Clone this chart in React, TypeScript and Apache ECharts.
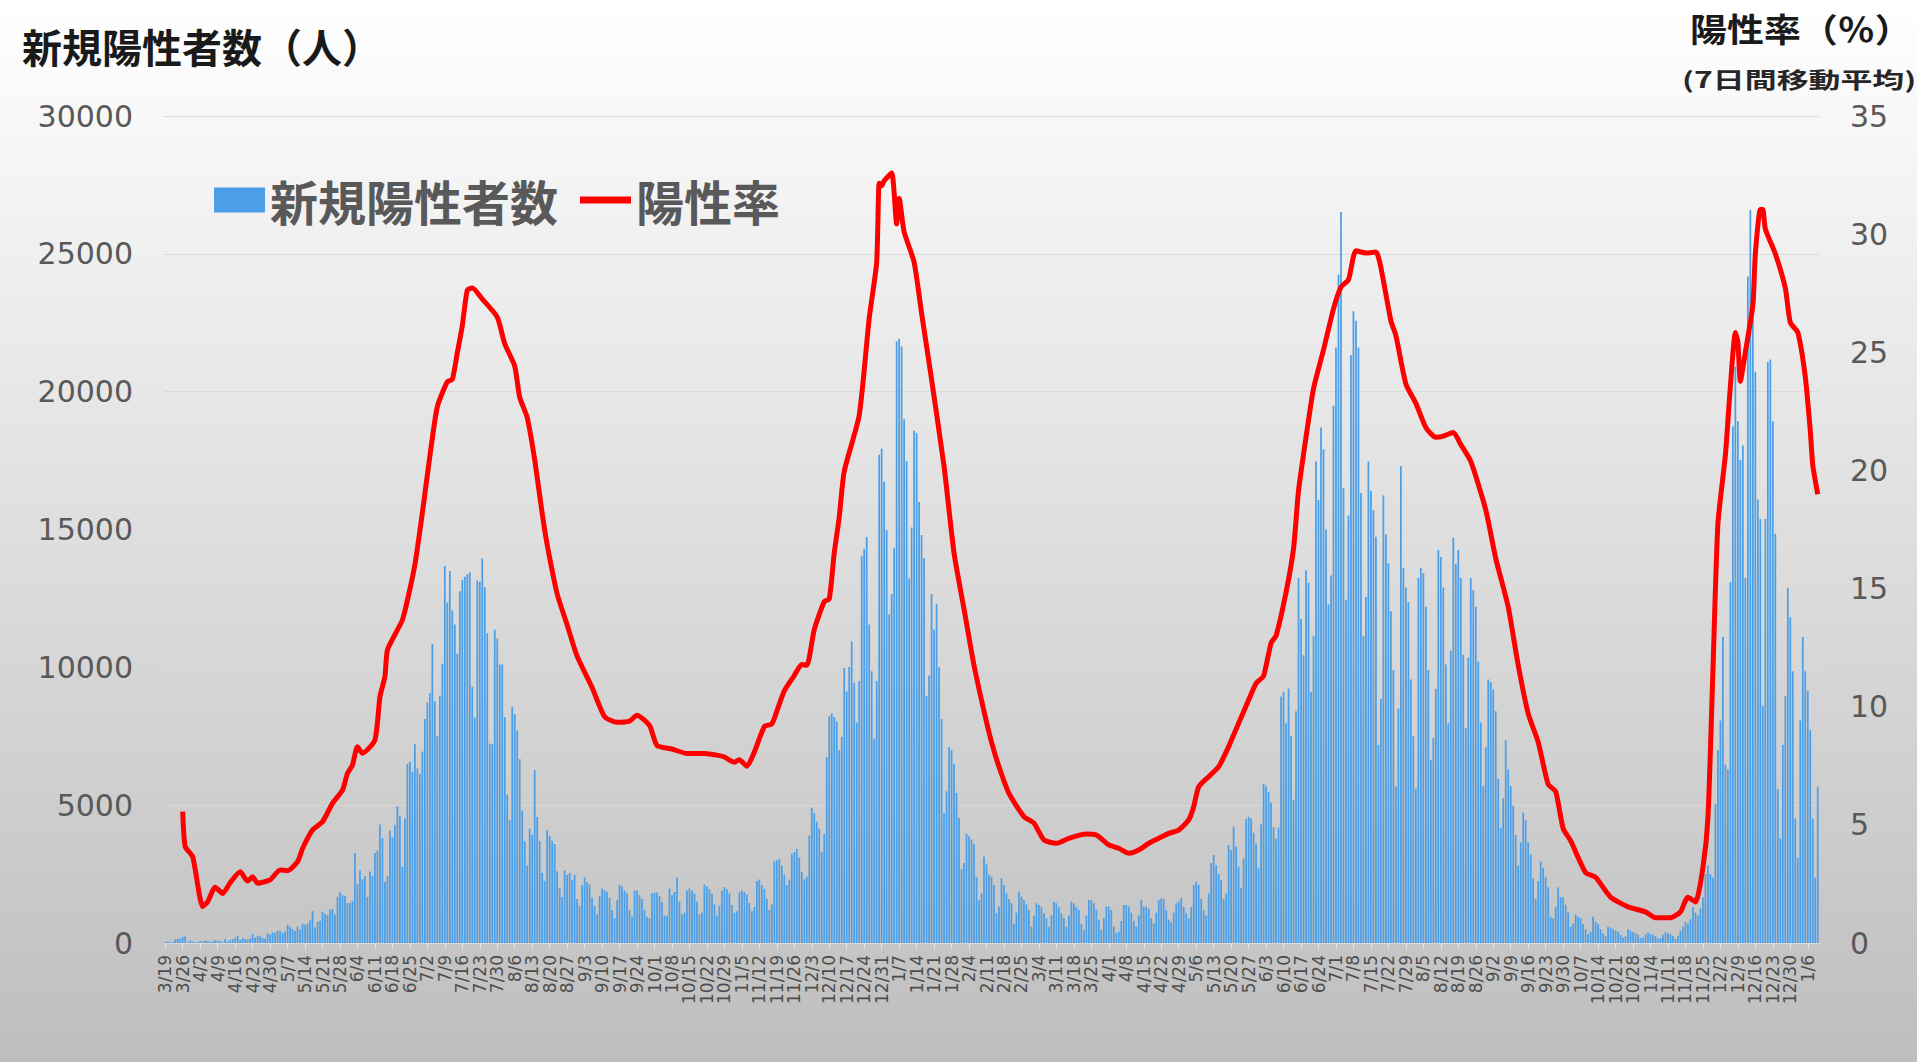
import { useEffect, useRef } from "react";
import * as echarts from "echarts";

// Weekly tick labels (every 7th day, starting 3/19)
const weekLabels = [
  "3/19", "3/26", "4/2", "4/9", "4/16", "4/23", "4/30", "5/7", "5/14", "5/21", "5/28",
  "6/4", "6/11", "6/18", "6/25", "7/2", "7/9", "7/16", "7/23", "7/30", "8/6", "8/13",
  "8/20", "8/27", "9/3", "9/10", "9/17", "9/24", "10/1", "10/8", "10/15", "10/22", "10/29",
  "11/5", "11/12", "11/19", "11/26", "12/3", "12/10", "12/17", "12/24", "12/31",
  "1/7", "1/14", "1/21", "1/28", "2/4", "2/11", "2/18", "2/25", "3/4", "3/11", "3/18",
  "3/25", "4/1", "4/8", "4/15", "4/22", "4/29", "5/6", "5/13", "5/20", "5/27", "6/3",
  "6/10", "6/17", "6/24", "7/1", "7/8", "7/15", "7/22", "7/29", "8/5", "8/12", "8/19",
  "8/26", "9/2", "9/9", "9/16", "9/23", "9/30", "10/7", "10/14", "10/21", "10/28", "11/4",
  "11/11", "11/18", "11/25", "12/2", "12/9", "12/16", "12/23", "12/30", "1/6",
];

// Daily new positive cases (one row per week, Thu..Wed)
const newCases = [
  34, 52, 38, 34, 128, 152, 155,
  218, 243, 17, 93, 46, 27, 27,
  82, 43, 80, 70, 31, 63, 96,
  89, 69, 25, 145, 56, 99, 143,
  178, 251, 104, 174, 142, 124, 165,
  318, 188, 267, 247, 178, 164, 354,
  297, 385, 374, 447, 437, 352, 424,
  663, 595, 511, 434, 595, 469, 698,
  665, 712, 817, 1160, 567, 767, 803,
  1134, 1052, 1009, 1218, 1240, 1032, 1673,
  1837, 1727, 1716, 1446, 1455, 1526, 3267,
  2147, 2642, 2312, 2430, 1674, 2594, 2430,
  3267, 3359, 4302, 3809, 2224, 2431, 4078,
  3826, 4288, 4966, 4621, 2760, 4518, 6500,
  6579, 6215, 7210, 6334, 6130, 6945, 8124,
  8728, 9063, 10853, 8773, 7515, 8971, 10134,
  13674, 12348, 13497, 12058, 11554, 10496, 12757,
  13172, 13285, 13373, 13449, 9300, 8170, 13150,
  13104, 13944, 12904, 11233, 7232, 7211, 11362,
  11046, 10107, 10107, 8195, 5377, 4456, 8559,
  8307, 7712, 6670, 4804, 3692, 2810, 4150,
  3916, 6275, 4567, 3692, 2541, 2258, 4100,
  3880, 3707, 3593, 2600, 1986, 1670, 2630,
  2470, 2540, 2290, 2470, 1600, 1340, 2100,
  2380, 2200, 2120, 1640, 1340, 1040, 1700,
  1980, 1900, 1850, 1640, 1200, 900, 1550,
  2120, 2050, 1900, 1800, 1200, 950, 1900,
  1900, 1740, 1600, 1200, 950, 900, 1800,
  1830, 1830, 1700, 1490, 1000, 975, 1980,
  1740, 1850, 2380, 1500, 1040, 1100, 1900,
  1980, 1900, 1800, 1500, 1040, 1100, 2120,
  2050, 1950, 1800, 1400, 1000, 1350, 1900,
  2030, 1950, 1800, 1380, 1100, 1150, 1840,
  1900, 1850, 1750, 1450, 1150, 1300, 2250,
  2300, 2100, 1950, 1600, 1200, 1400, 2950,
  3000, 3040, 2800, 2480, 2100, 2300, 3230,
  3300, 3410, 3100, 2580, 2300, 2400, 3900,
  4900, 4720, 4400, 4150, 3300, 3960, 6750,
  8230, 8330, 8200, 8040, 7000, 7480, 9980,
  9126, 10008, 10939, 9445, 7999, 9501, 14046,
  14305, 14730, 11552, 9854, 7420, 9502, 17710,
  17930, 16730, 14980, 11920, 12660, 14330, 21820,
  21910, 21640, 19000, 17480, 13220, 15070, 18580,
  18500, 16000, 14800, 13960, 8960, 9700, 12660,
  11370, 12300, 10000, 8120, 4720, 5500, 7110,
  7000, 6500, 5440, 4530, 2680, 2900, 3960,
  3870, 3750, 3590, 2390, 1560, 1800, 3130,
  2850, 2480, 2400, 2100, 1080, 1320, 2350,
  2100, 1800, 1600, 1440, 710, 1100, 1860,
  1680, 1560, 1400, 1200, 590, 1000, 1440,
  1380, 1300, 1080, 900, 590, 1000, 1500,
  1440, 1300, 1080, 900, 590, 1000, 1500,
  1440, 1300, 1200, 700, 470, 1000, 1560,
  1560, 1440, 1200, 840, 470, 900, 1320,
  1320, 1200, 600, 350, 410, 800, 1380,
  1380, 1320, 1100, 800, 590, 1000, 1560,
  1320, 1320, 1250, 900, 710, 1100, 1560,
  1620, 1600, 1200, 840, 750, 1100, 1440,
  1500, 1620, 1300, 1080, 900, 1300, 2100,
  2225, 2100, 1600, 1200, 1000, 1800, 2900,
  3190, 2830, 2500, 2280, 1600, 1800, 3550,
  3370, 4220, 3500, 2770, 2000, 3070, 4500,
  4580, 4520, 4000, 3610, 2710, 4300, 5770,
  5690, 5470, 5100, 4200, 3780, 4180, 8940,
  9110, 7970, 9230, 7500, 5200, 8410, 13240,
  11750, 10440, 13510, 13070, 9110, 11150, 17470,
  16070, 18700, 17910, 15000, 12280, 13330, 19490,
  21600, 24240, 26520, 16500, 12450, 15510, 21330,
  22920, 22570, 21600, 16320, 11140, 12550, 17470,
  16410, 15700, 14740, 7180, 8850, 16230, 14830,
  13780, 12030, 9900, 5690, 8500, 17290, 13600,
  12900, 12370, 9560, 7500, 5600, 13240, 13600,
  13420, 12200, 9900, 6640, 7430, 9220, 14260,
  14000, 12900, 10100, 7970, 10600, 14700, 13740,
  14260, 13240, 10460, 7790, 10350, 13240, 12800,
  12200, 10200, 8000, 5690, 7100, 9560, 9470,
  9200, 8410, 5950, 4180, 5250, 7350, 6290,
  5690, 4980, 3920, 2800, 3650, 4730, 4450,
  3650, 3220, 2340, 1600, 2250, 2950, 2730,
  2400, 2020, 950, 900, 1300, 2020, 1660,
  1660, 1390, 1100, 590, 700, 1030, 950,
  900, 690, 500, 320, 400, 950, 780,
  700, 500, 350, 250, 590, 560, 500,
  450, 420, 300, 200, 240, 500, 450,
  400, 360, 300, 180, 200, 320, 380,
  330, 300, 250, 150, 180, 300, 400,
  350, 320, 250, 150, 250, 450, 590,
  770, 700, 860, 1300, 1100, 1000, 1250,
  1660, 2500, 2820, 2500, 2370, 5040, 7000,
  8070, 11110, 6470, 6290, 13090, 18750, 20900,
  18930, 17520, 18050, 13250, 24180, 26580, 22640,
  20720, 16090, 15380, 8610, 15380, 21080, 21170,
  18930, 14850, 5580, 3800, 7190, 8970, 12890,
  11820, 9860, 4510, 3090, 8070, 11110, 9860,
  9150, 7720, 4510, 2370, 5670,
];

// Positivity rate (7-day moving average, %) at day indices
const positivityDays = [
  7, 8, 11, 15, 17, 20, 23, 26, 30, 33, 35, 37, 42, 46, 49, 53, 55, 59, 63, 67,
  71, 73, 75, 77, 79, 84, 86, 88, 89, 93, 95, 97, 100, 103, 106, 109, 113, 115, 117, 119,
  121, 123, 127, 133, 136, 140, 142, 145, 148, 151, 153, 157, 161, 165, 171, 176, 181, 186, 189, 194,
  197, 203, 209, 216, 221, 224, 228, 230, 233, 236, 240, 243, 245, 248, 252, 255, 257, 260, 264, 266,
  268, 270, 272, 278, 282, 285, 286, 287, 288, 291, 293, 294, 296, 300, 303, 307, 312, 316, 320, 324,
  328, 331, 334, 338, 344, 348, 352, 357, 362, 369, 373, 378, 382, 386, 390, 394, 398, 402, 406, 410,
  412, 414, 418, 422, 426, 430, 434, 437, 440, 443, 445, 449, 452, 454, 457, 460, 464, 468, 471, 474,
  477, 481, 485, 487, 491, 493, 497, 501, 505, 509, 512, 516, 519, 523, 529, 533, 538, 542, 546, 550,
  554, 557, 560, 563, 569, 573, 579, 586, 593, 597, 603, 607, 610, 613, 616, 618, 620, 622, 625, 627,
  629, 630, 631, 633, 636, 637, 639, 640, 641, 645, 649, 651, 654, 657, 659, 660, 662,
];
const positivityRates = [
  5.56, 4.08, 3.65, 1.54, 1.75, 2.36, 2.1, 2.55, 3.02, 2.62, 2.8, 2.53, 2.67, 3.09, 3.06, 3.44, 4.0, 4.78, 5.13, 5.91,
  6.47, 7.18, 7.53, 8.31, 8.03, 8.59, 10.42, 11.27, 12.4, 13.25, 13.67, 14.5, 16.0, 18.2, 20.6, 22.7, 23.75, 23.85, 24.98, 26.12,
  27.63, 27.72, 27.25, 26.49, 25.36, 24.42, 23.09, 22.24, 20.45, 18.18, 16.86, 14.78, 13.46, 12.14, 10.81, 9.58, 9.34, 9.39, 9.64, 9.21,
  8.36, 8.21, 8.02, 8.02, 7.95, 7.87, 7.65, 7.76, 7.48, 8.08, 9.16, 9.27, 9.81, 10.67, 11.32, 11.79, 11.75, 13.26, 14.45, 14.56,
  16.5, 18.02, 19.96, 22.33, 26.43, 28.81, 32.15, 32.05, 32.26, 32.59, 30.43, 31.51, 30.1, 28.81, 26.65, 23.84, 20.17, 16.5, 14.13, 11.75,
  9.81, 8.5, 7.46, 6.33, 5.35, 5.07, 4.36, 4.22, 4.43, 4.61, 4.57, 4.15, 4.01, 3.8, 3.94, 4.22, 4.43, 4.64, 4.78, 5.21,
  5.77, 6.61, 7.04, 7.46, 8.31, 9.3, 10.28, 10.99, 11.3, 12.7, 13.0, 14.84, 16.69, 19.15, 21.41, 23.46, 25.1, 26.84, 27.76, 28.07,
  29.3, 29.2, 29.24, 28.58, 26.33, 25.71, 23.66, 22.84, 21.82, 21.4, 21.45, 21.61, 21.1, 20.38, 18.33, 16.28, 14.22, 11.76, 9.71, 8.5,
  6.72, 6.41, 4.85, 4.33, 2.98, 2.78, 1.94, 1.53, 1.32, 1.07, 1.07, 1.32, 1.94, 1.74, 3.19, 5.27, 11.5, 17.74, 20.65, 23.56,
  25.84, 25.43, 23.77, 25.01, 26.99, 29.17, 31.04, 31.04, 30.21, 29.17, 27.72, 26.26, 25.84, 23.97, 21.69, 20.23, 18.99,
];

const casesAxisTicks = { min: 0, max: 30000, interval: 5000 };
const rateAxisTicks = { min: 0, max: 35, interval: 5 };

const CJK = '"Noto Sans CJK JP", "Noto Sans CJK SC", sans-serif';
const NUM = '"DejaVu Sans", sans-serif';

// Thin horizontal bar icon (transparent padding keeps it centred and thin)
const LINE_ICON = "path://M0,0L0.01,0M0,9L52,9L52,16L0,16ZM0,25L0.01,25";

export default function App() {
  const ref = useRef<HTMLDivElement>(null);

  useEffect(() => {
    if (!ref.current) return;
    const chart = echarts.init(ref.current, null, { renderer: "svg" });
    const categories = newCases.map((_, i) => String(i));
    const lineData = positivityDays.map((d, i) => [d, positivityRates[i]]);
    const showTick = (index: number) => index % 7 === 0;

    chart.setOption({
      animation: false,
      backgroundColor: "transparent",
      grid: { left: 164, right: 98, top: 116, bottom: 119, containLabel: false },
      legend: {
        left: 214,
        top: 176,
        padding: 0,
        itemWidth: 51,
        itemHeight: 25,
        itemGap: 22,
        textStyle: { fontSize: 48, fontWeight: "bold", color: "#595959", fontFamily: CJK },
        data: [
          { name: "新規陽性者数", icon: "rect" },
          { name: "陽性率", icon: LINE_ICON },
        ],
      },
      graphic: [
        {
          type: "text",
          x: 22,
          y: 46,
          style: {
            text: "新規陽性者数（人）",
            fontSize: 40,
            fontWeight: "bold",
            fontFamily: CJK,
            fill: "#1a1a1a",
            align: "left",
            verticalAlign: "middle",
          },
        },
        {
          type: "text",
          x: 1690,
          y: 27,
          scaleX: 1.12,
          style: {
            text: "陽性率（％）",
            fontSize: 33,
            fontWeight: "bold",
            fontFamily: CJK,
            fill: "#1a1a1a",
            align: "left",
            verticalAlign: "middle",
          },
        },
        {
          type: "text",
          x: 1682,
          y: 78,
          scaleX: 1.45,
          style: {
            text: "(7日間移動平均)",
            fontSize: 22,
            fontWeight: "bold",
            fontFamily: CJK,
            fill: "#262626",
            align: "left",
            verticalAlign: "middle",
          },
        },
      ],
      xAxis: {
        type: "category",
        data: categories,
        axisLine: { show: true, lineStyle: { color: "#d9d9d9", width: 1 } },
        axisTick: { show: true, interval: showTick, alignWithLabel: true, length: 6, lineStyle: { color: "#e6e6e6" } },
        axisLabel: {
          interval: showTick,
          hideOverlap: false,
          rotate: 90,
          margin: 12,
          fontSize: 17,
          fontFamily: NUM,
          color: "#4d4d4d",
          formatter: (_v: string, index: number) =>
            index % 7 === 0 ? weekLabels[index / 7] ?? "" : "",
        },
        splitLine: { show: false },
      },
      yAxis: [
        {
          type: "value",
          ...casesAxisTicks,
          position: "left",
          axisLine: { show: false },
          axisTick: { show: false },
          axisLabel: {
            margin: 31,
            fontSize: 30,
            fontFamily: NUM,
            color: "#595959",
            formatter: (v: number) => String(v),
          },
          splitLine: { show: true, lineStyle: { color: "#d9d9d9", width: 1 } },
        },
        {
          type: "value",
          ...rateAxisTicks,
          position: "right",
          axisLine: { show: false },
          axisTick: { show: false },
          axisLabel: {
            margin: 31,
            fontSize: 30,
            fontFamily: NUM,
            color: "#595959",
            formatter: (v: number) => String(v),
          },
          splitLine: { show: false },
        },
      ],
      series: [
        {
          name: "新規陽性者数",
          type: "bar",
          data: newCases,
          yAxisIndex: 0,
          barCategoryGap: "30%",
          itemStyle: { color: "#4a9fe8" },
          z: 2,
        },
        {
          name: "陽性率",
          type: "line",
          data: lineData,
          yAxisIndex: 1,
          symbol: "none",
          smooth: 0.2,
          lineStyle: { color: "#ff0000", width: 5 },
          itemStyle: { color: "#ff0000" },
          z: 3,
        },
      ],
    });

    return () => chart.dispose();
  }, []);

  return (
    <div
      ref={ref}
      style={{
        position: "fixed",
        left: 0,
        top: 0,
        width: 1917,
        height: 1062,
        background: "linear-gradient(#ffffff, #bebebe)",
      }}
    />
  );
}
